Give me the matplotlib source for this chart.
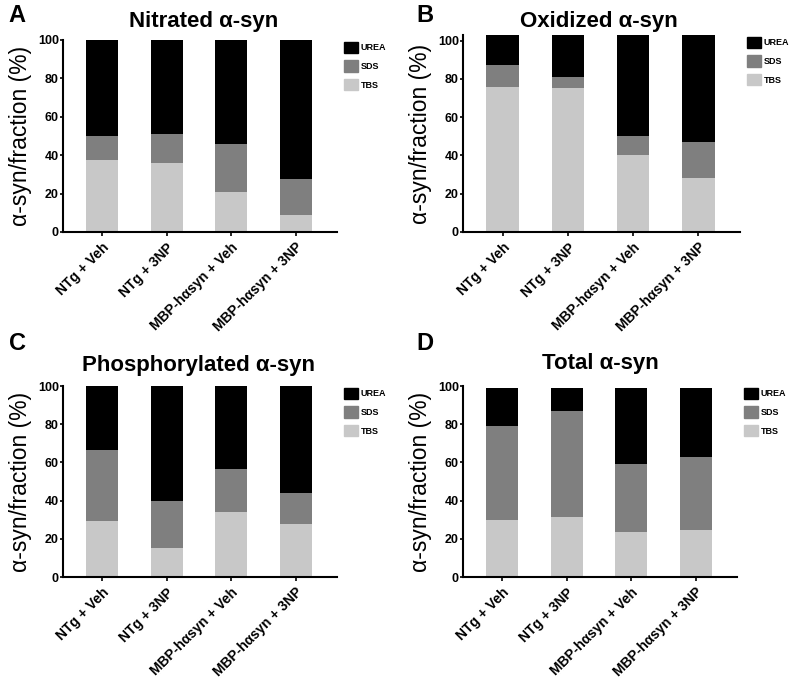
import matplotlib
matplotlib.use("Agg")
import matplotlib.pyplot as plt
from matplotlib.patches import Patch
import numpy as np

plt.rcParams['font.family'] = ['Liberation Sans', 'DejaVu Sans']

categories = ["NTg + Veh", "NTg + 3NP", "MBP-hαsyn + Veh", "MBP-hαsyn + 3NP"]
fractions = ["TBS", "SDS", "UREA"]
colors = {"TBS": "#c8c8c8", "SDS": "#7f7f7f", "UREA": "#000000"}

titles = ["Nitrated α-syn", "Oxidized α-syn", "Phosphorylated α-syn", "Total α-syn"]
letters = ["A", "B", "C", "D"]

nitrated_tbs = [37.5, 36.0, 21.0, 8.6]
nitrated_sds = [12.6, 15.3, 24.6, 19.0]
nitrated_urea = [49.9, 48.7, 54.4, 72.4]

oxidized_tbs = [75.8, 75.2, 40.4, 28.3]
oxidized_sds = [11.5, 6.1, 9.8, 18.7]
oxidized_urea = [15.7, 21.7, 52.8, 56.0]

phospho_tbs = [29.1, 15.2, 33.8, 27.9]
phospho_sds = [37.4, 24.7, 23.0, 16.3]
phospho_urea = [33.5, 60.1, 43.2, 55.8]

total_tbs = [29.8, 31.5, 23.5, 24.7]
total_sds = [49.3, 55.3, 35.9, 38.0]
total_urea = [19.9, 12.2, 39.6, 36.3]

panels = [
    (nitrated_tbs, nitrated_sds, nitrated_urea),
    (oxidized_tbs, oxidized_sds, oxidized_urea),
    (phospho_tbs, phospho_sds, phospho_urea),
    (total_tbs, total_sds, total_urea),
]

W, H = 800, 682
fig = plt.figure(figsize=(W / 100, H / 100), dpi=100)

# axes boxes in pixels: left, top, right, bottom
boxes = [
    (63, 40, 337, 232),
    (463, 35, 740, 232),
    (63, 386, 337, 577),
    (463, 386, 737, 577),
]
ytops = [100, 103, 100, 100]
letter_pos = [(17, 15), (425, 15), (17, 343), (425, 343)]
title_pos = [(204, 21), (599, 21), (198, 366), (600, 363)]

for i, ((l, t, r, b), (tbs, sds, urea)) in enumerate(zip(boxes, panels)):
    ax = fig.add_axes([l / W, 1 - b / H, (r - l) / W, (b - t) / H])
    x = np.arange(len(categories))
    tbs = np.array(tbs); sds = np.array(sds); urea = np.array(urea)
    ax.bar(x, tbs, width=0.5, color=colors["TBS"], label="TBS")
    ax.bar(x, sds, width=0.5, bottom=tbs, color=colors["SDS"], label="SDS")
    ax.bar(x, urea, width=0.5, bottom=tbs + sds, color=colors["UREA"], label="UREA")
    ax.set_xlim(-0.61, 3.64)
    ax.set_ylim(0, ytops[i])
    ax.set_yticks([0, 20, 40, 60, 80, 100])
    ax.set_xticks(x)
    ax.set_xticklabels(categories, rotation=45, ha="right", rotation_mode="anchor",
                       fontsize=10, fontweight="bold")
    for lab in ax.get_yticklabels():
        lab.set_fontweight("bold")
        lab.set_fontsize(9)
    for s in ["top", "right"]:
        ax.spines[s].set_visible(False)
    for s in ["left", "bottom"]:
        ax.spines[s].set_linewidth(1.5)
    ax.tick_params(axis="y", width=1.2, length=2, pad=1)
    ax.tick_params(axis="x", width=1.2, length=3, pad=3)
    ax.set_ylabel("α-syn/fraction (%)", fontsize=16.5, labelpad=4)
    handles = [Patch(color=colors[f]) for f in ["UREA", "SDS", "TBS"]]
    ax.legend(handles, ["UREA", "SDS", "TBS"], loc="upper left",
              bbox_to_anchor=(1.02, 1.0), frameon=False,
              prop={"size": 6.5, "weight": "bold"},
              handlelength=1.5, handleheight=1.5, labelspacing=0.85,
              handletextpad=0.3, borderaxespad=0.0, borderpad=0.2)
    fig.text(title_pos[i][0] / W, 1 - title_pos[i][1] / H, titles[i],
             ha="center", va="center", fontsize=16, fontweight="bold")
    fig.text(letter_pos[i][0] / W, 1 - letter_pos[i][1] / H, letters[i],
             ha="center", va="center", fontsize=17, fontweight="bold")

fig.savefig("out.png", dpi=100)
